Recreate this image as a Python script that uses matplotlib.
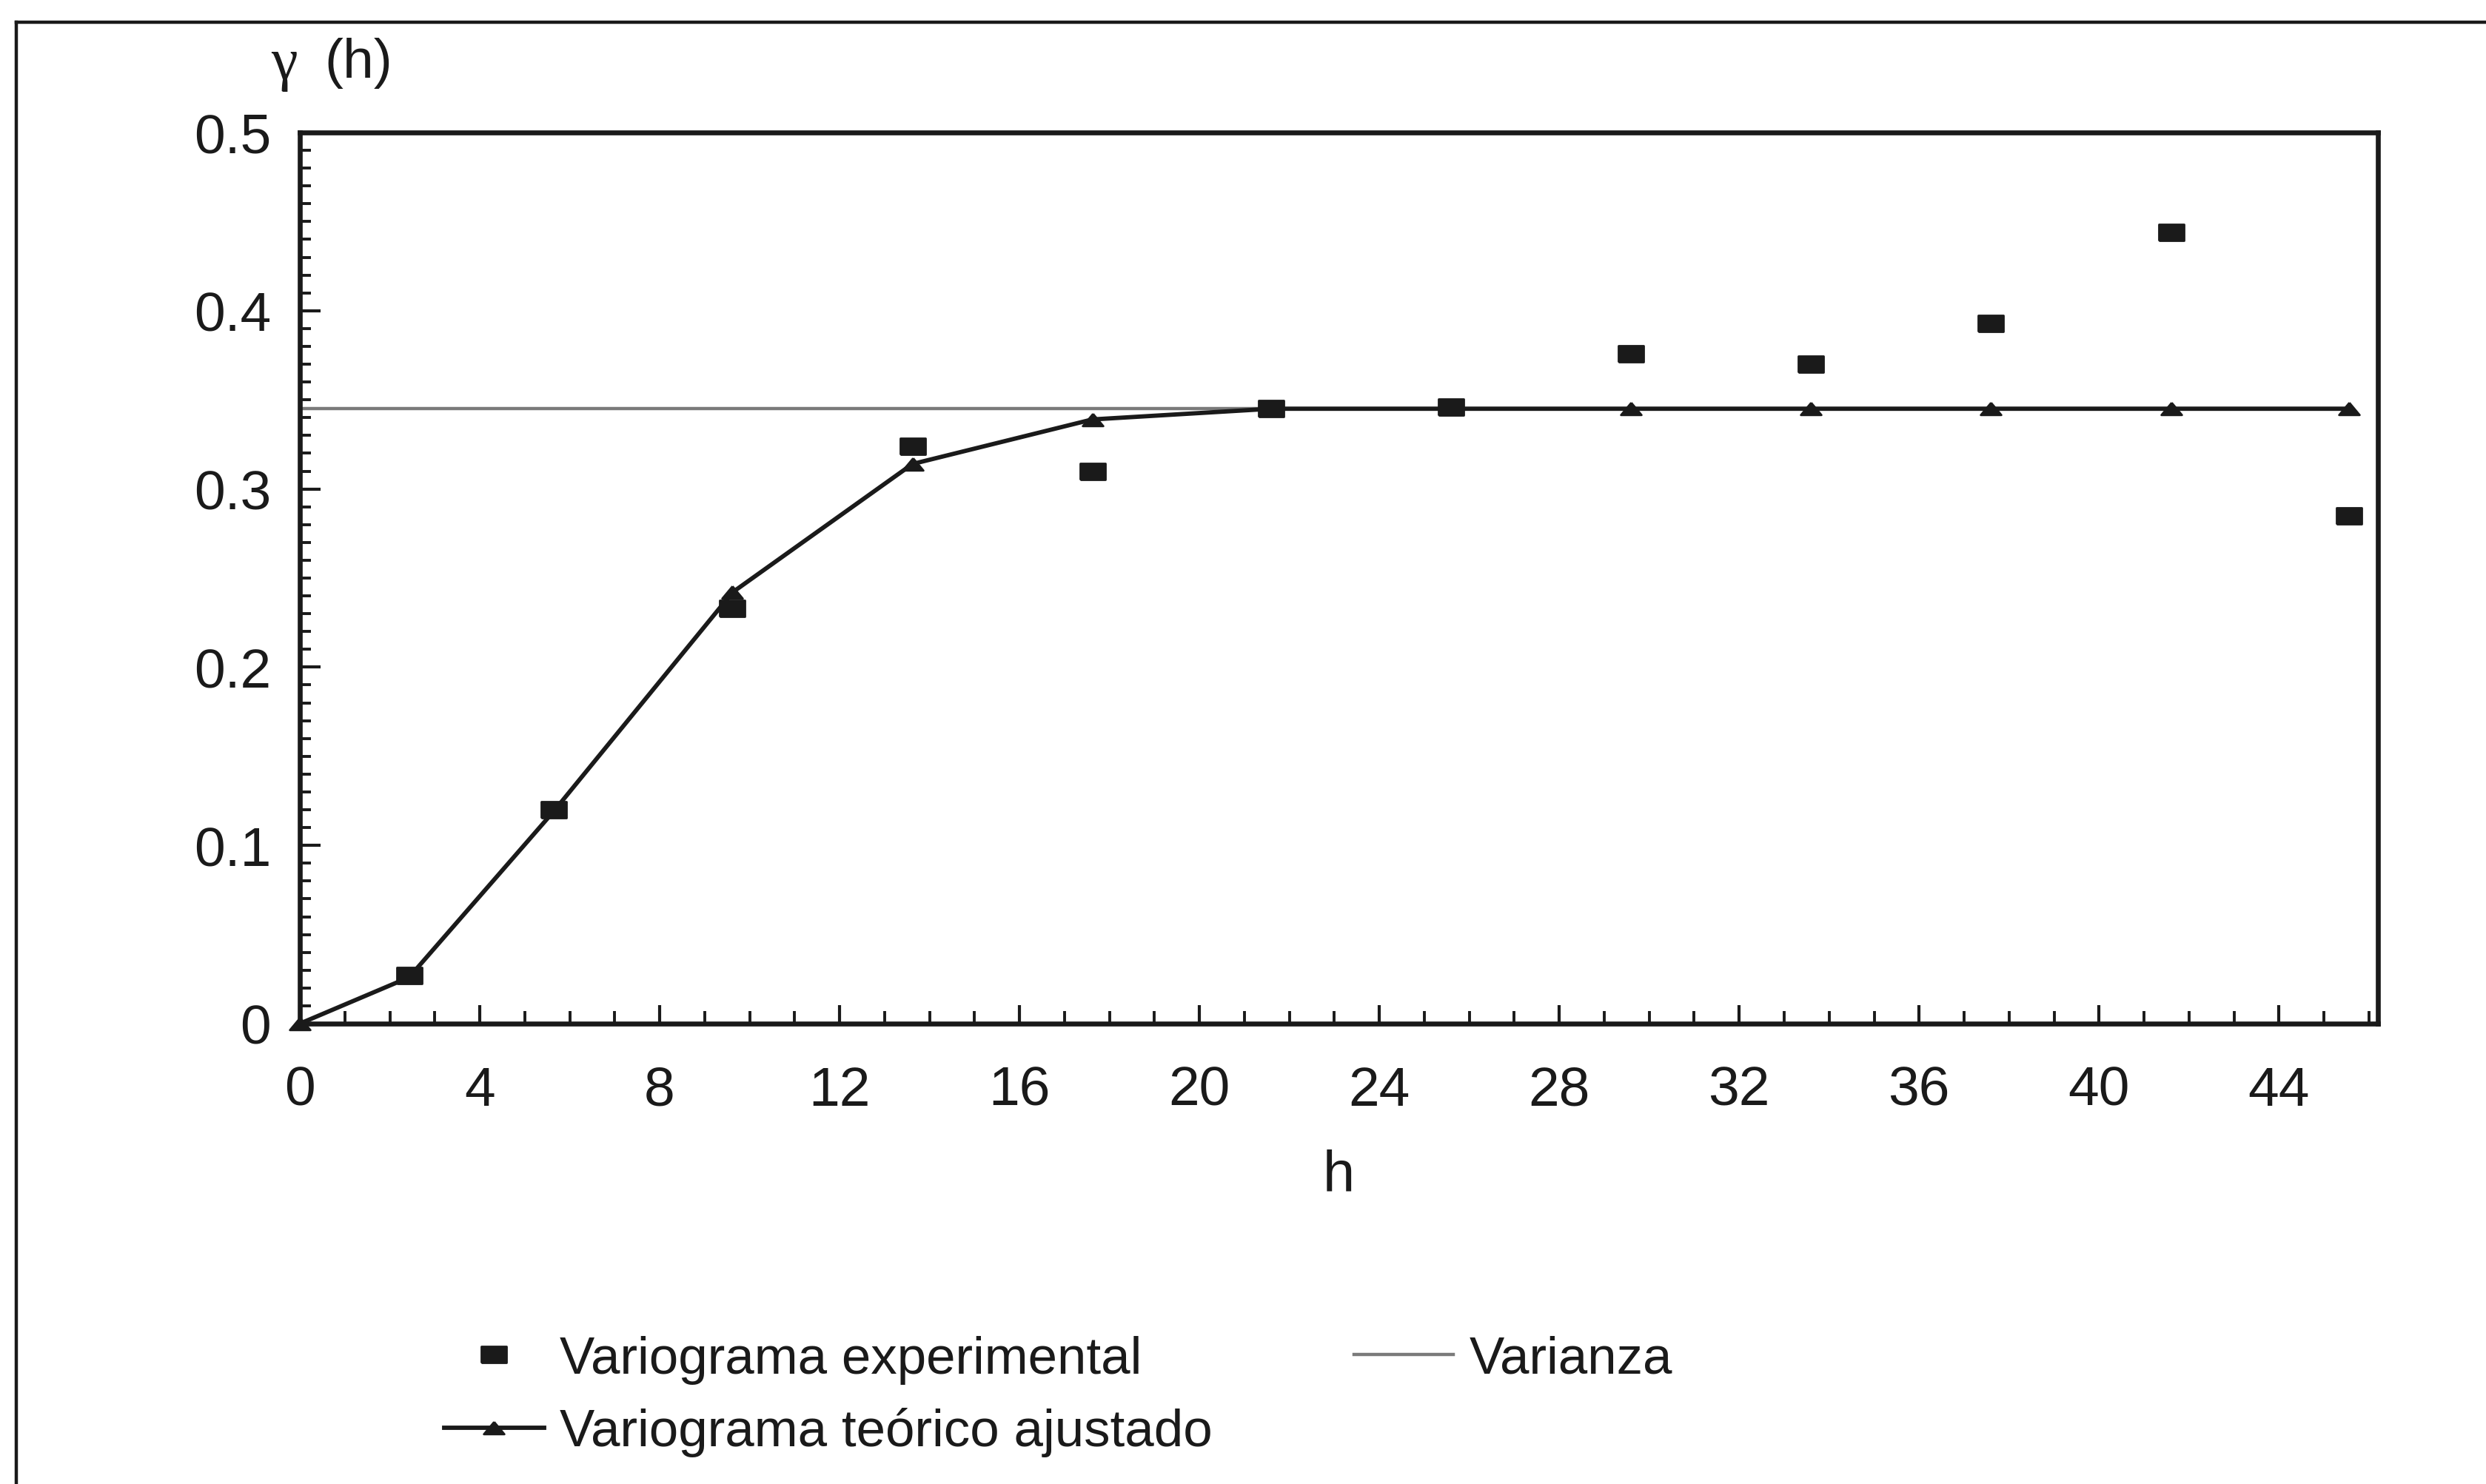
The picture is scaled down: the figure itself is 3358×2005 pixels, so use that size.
import matplotlib
matplotlib.use("Agg")
import matplotlib.pyplot as plt
from matplotlib.lines import Line2D
from matplotlib.ticker import MultipleLocator, FixedLocator, FixedFormatter

plt.rcParams['font.family'] = ['Liberation Sans', 'DejaVu Sans']

# Lag distances (h) and semivariance values
lag_exp = [2.43, 5.64, 9.62, 13.62, 17.62, 21.6, 25.6, 29.6, 33.6, 37.6, 41.6, 45.55]
gamma_exp = [0.027, 0.120, 0.233, 0.324, 0.310, 0.345, 0.346, 0.376, 0.370, 0.393, 0.444, 0.285]

lag_fit = [0, 2.43, 5.64, 9.62, 13.62, 17.62, 21.6, 25.6, 29.6, 33.6, 37.6, 41.6, 45.55]
gamma_fit = [0.0, 0.026, 0.119, 0.242, 0.314, 0.339, 0.345, 0.345, 0.345, 0.345, 0.345, 0.345, 0.345]

varianza = 0.345
var_range = [0, 45.55]

x_ticks = [0, 4, 8, 12, 16, 20, 24, 28, 32, 36, 40, 44]
y_ticks = [0, 0.1, 0.2, 0.3, 0.4, 0.5]
y_tick_labels = ["0", "0.1", "0.2", "0.3", "0.4", "0.5"]

labels = ["Variograma experimental", "Variograma teórico ajustado", "Varianza"]

INK = "#1a1a1a"
GREY = "#7a7a7a"

W, H = 3358, 2006
fig = plt.figure(figsize=(W / 200, H / 200), dpi=200)
fig.patch.set_facecolor("white")

ax = fig.add_axes([405 / W, 1 - 1384 / H, (3212 - 405) / W, (1384 - 180) / H])

# rectangular marker, wider than tall
rect = [(-1, -0.62), (1, -0.62), (1, 0.62), (-1, 0.62), (-1, -0.62)]
tri = [(0, 0.6), (-1, -0.6), (1, -0.6), (0, 0.6)]

ax.plot(var_range, [varianza, varianza], color=GREY, lw=1.6, zorder=2)
ax.plot(lag_fit, gamma_fit, color=INK, lw=2.1, marker=tri, markersize=10,
        markerfacecolor=INK, markeredgecolor=INK, zorder=3, clip_on=False)
ax.plot(lag_exp, gamma_exp, linestyle="none", marker=rect, markersize=12.5,
        markerfacecolor=INK, markeredgecolor=INK, zorder=4, clip_on=False)

ax.set_xlim(0, 46.2)
ax.set_ylim(0, 0.5)

ax.xaxis.set_major_locator(FixedLocator(x_ticks))
ax.xaxis.set_minor_locator(MultipleLocator(1))
ax.yaxis.set_major_locator(FixedLocator(y_ticks))
ax.yaxis.set_major_formatter(FixedFormatter(y_tick_labels))
ax.yaxis.set_minor_locator(MultipleLocator(0.01))

ax.tick_params(axis="both", which="both", direction="in", colors=INK,
               top=False, right=False, labelsize=27)
ax.tick_params(axis="x", which="major", length=9, width=1.5, pad=20)
ax.tick_params(axis="x", which="minor", length=6, width=1.4)
ax.tick_params(axis="y", which="major", length=10, width=1.5, pad=14)
ax.tick_params(axis="y", which="minor", length=5.5, width=1.4)

for side in ["left", "bottom", "top", "right"]:
    ax.spines[side].set_linewidth(2.4)
    ax.spines[side].set_color(INK)

ax.set_xlabel("h", fontsize=28, color=INK, labelpad=16)

# vertical axis title: gamma(h)
fig.text(366 / W, 1 - 88 / H, "γ", fontsize=29, color=INK,
         family=["Liberation Serif", "DejaVu Serif"], ha="left", va="center")
fig.text(438 / W, 1 - 86 / H, "(h)", fontsize=27, color=INK,
         ha="left", va="center")

# outer frame of the figure panel
fig.add_artist(Line2D([22 / W, 22 / W], [1 - 31 / H, 0], transform=fig.transFigure,
                      color=INK, lw=1.6))
fig.add_artist(Line2D([22 / W, 1], [1 - 31 / H, 1 - 31 / H], transform=fig.transFigure,
                      color=INK, lw=1.6))

handles = [
    Line2D([], [], linestyle="none", marker=rect, markersize=12.5,
           markerfacecolor=INK, markeredgecolor=INK),
    Line2D([], [], color=INK, lw=2.1, marker=tri, markersize=10,
           markerfacecolor=INK, markeredgecolor=INK),
    Line2D([], [], color=GREY, lw=1.6),
]
fig.legend(handles, labels, ncol=2, loc="center left",
           bbox_to_anchor=(600 / W, 1 - 1887 / H), frameon=False, fontsize=25.5,
           handlelength=1.9, handletextpad=0.3, columnspacing=2.7,
           labelspacing=0.45, borderpad=0, borderaxespad=0, numpoints=1,
           labelcolor=INK)

fig.savefig("out.png", dpi=200, facecolor="white")
